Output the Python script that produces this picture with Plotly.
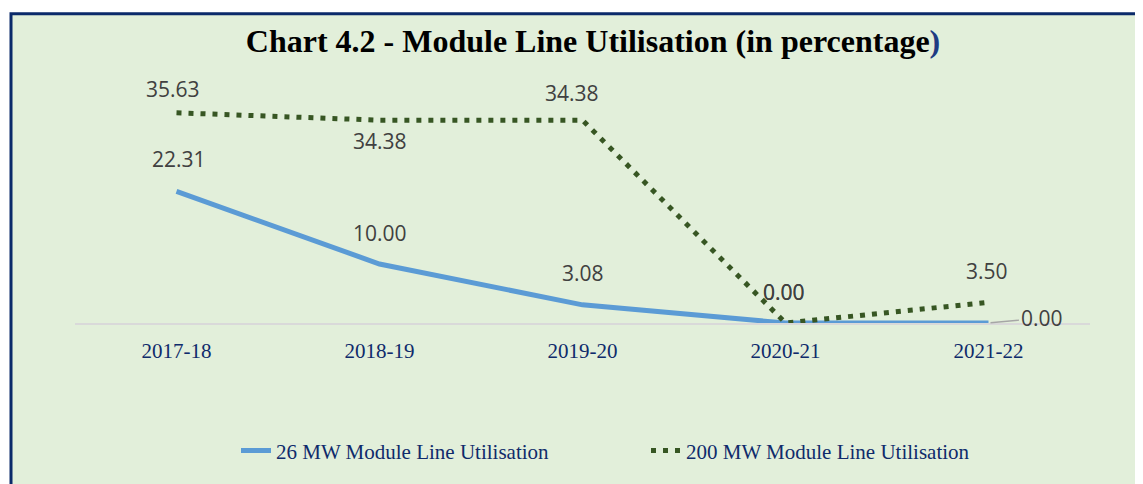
import plotly.graph_objects as go

categories = ["2017-18", "2018-19", "2019-20", "2020-21", "2021-22"]
mw26_values = [22.31, 10.00, 3.08, 0.00, 0.00]
mw200_values = [35.63, 34.38, 34.38, 0.00, 3.50]
series_names = ["26 MW Module Line Utilisation", "200 MW Module Line Utilisation"]

# label pixel offsets (styling only)
off26 = [(2, 32), (0, 31), (0, 32), (-2, 31), (53, 5)]
off200 = [(-4, 24), (0, -21), (-11, 27), (-2, 31), (-2, 31)]

NAVY = "#0F2B6B"
LABEL = "#404040"
LFONT = dict(family="Open Sans", size=21, color=LABEL)

# page body has an 8px margin; work in reference pixels and shift
S = 8
FW, FH = 1143 - S, 484 - S
L, T, W, H = 75 - S, 87 - S, 1015, 240

def px_x(p):
    return (p - S - L) / W

def px_y(p):
    return (T + H - (p - S)) / H

fig = go.Figure()
fig.add_trace(go.Scatter(
    x=categories, y=mw26_values, mode="lines", name=series_names[0],
    line=dict(color="#5B9BD5", width=5),
))
fig.add_trace(go.Scatter(
    x=categories, y=mw200_values, mode="lines", name=series_names[1],
    line=dict(color="#375623", width=5, dash="5px,7px"),
))

annotations = []
for i, (c, v) in enumerate(zip(categories, mw26_values)):
    dx, dy = off26[i]
    if i == len(categories) - 1:
        annotations.append(dict(
            x=c, y=v, xref="x", yref="y", text=f"{v:.2f}",
            showarrow=True, arrowhead=0, arrowwidth=1.5, arrowcolor="#A6A6A6",
            ax=dx, ay=-dy, standoff=2, font=LFONT,
        ))
    else:
        annotations.append(dict(
            x=c, y=v, xref="x", yref="y", text=f"{v:.2f}", showarrow=False,
            xshift=dx, yshift=dy, font=LFONT,
        ))
for i, (c, v) in enumerate(zip(categories, mw200_values)):
    dx, dy = off200[i]
    annotations.append(dict(
        x=c, y=v, xref="x", yref="y", text=f"{v:.2f}", showarrow=False,
        xshift=dx, yshift=dy, font=LFONT,
    ))

fig.update_layout(
    width=FW, height=FH,
    margin=dict(l=L, r=FW - L - W, t=T, b=FH - T - H, pad=0),
    paper_bgcolor="white",
    plot_bgcolor="rgba(0,0,0,0)",
    title=dict(
        text="<b>Chart 4.2 - Module Line Utilisation (in percentage<span style='color:#1F3B82'>)</span></b>",
        x=(593 - S) / FW, xanchor="center", xref="container",
        y=1 - (41 - S) / FH, yanchor="middle", yref="container",
        font=dict(family="Liberation Serif", size=32, color="black"),
    ),
    xaxis=dict(
        type="category", range=[-0.5, 4.5],
        showgrid=False, zeroline=False, showline=True,
        linecolor="#D9D9D9", linewidth=2, ticks="",
        ticklabelstandoff=8,
        tickfont=dict(family="Liberation Serif", size=21, color=NAVY),
    ),
    yaxis=dict(
        range=[0, 40], showgrid=False, zeroline=False, showline=False,
        showticklabels=False, ticks="",
    ),
    showlegend=True,
    legend=dict(
        orientation="h", x=px_x(236), xanchor="left", xref="paper",
        y=px_y(457), yanchor="middle",
        font=dict(family="Liberation Serif", size=21, color=NAVY),
        bgcolor="rgba(0,0,0,0)", entrywidth=365,
    ),
    annotations=annotations,
    shapes=[dict(
        type="rect", xref="paper", yref="paper", layer="below",
        x0=px_x(11), x1=px_x(1170), y0=px_y(12.5), y1=px_y(510),
        fillcolor="#E2EFDA", line=dict(color="#0B2A6A", width=3),
    )],
)

fig.write_html("out.html")
